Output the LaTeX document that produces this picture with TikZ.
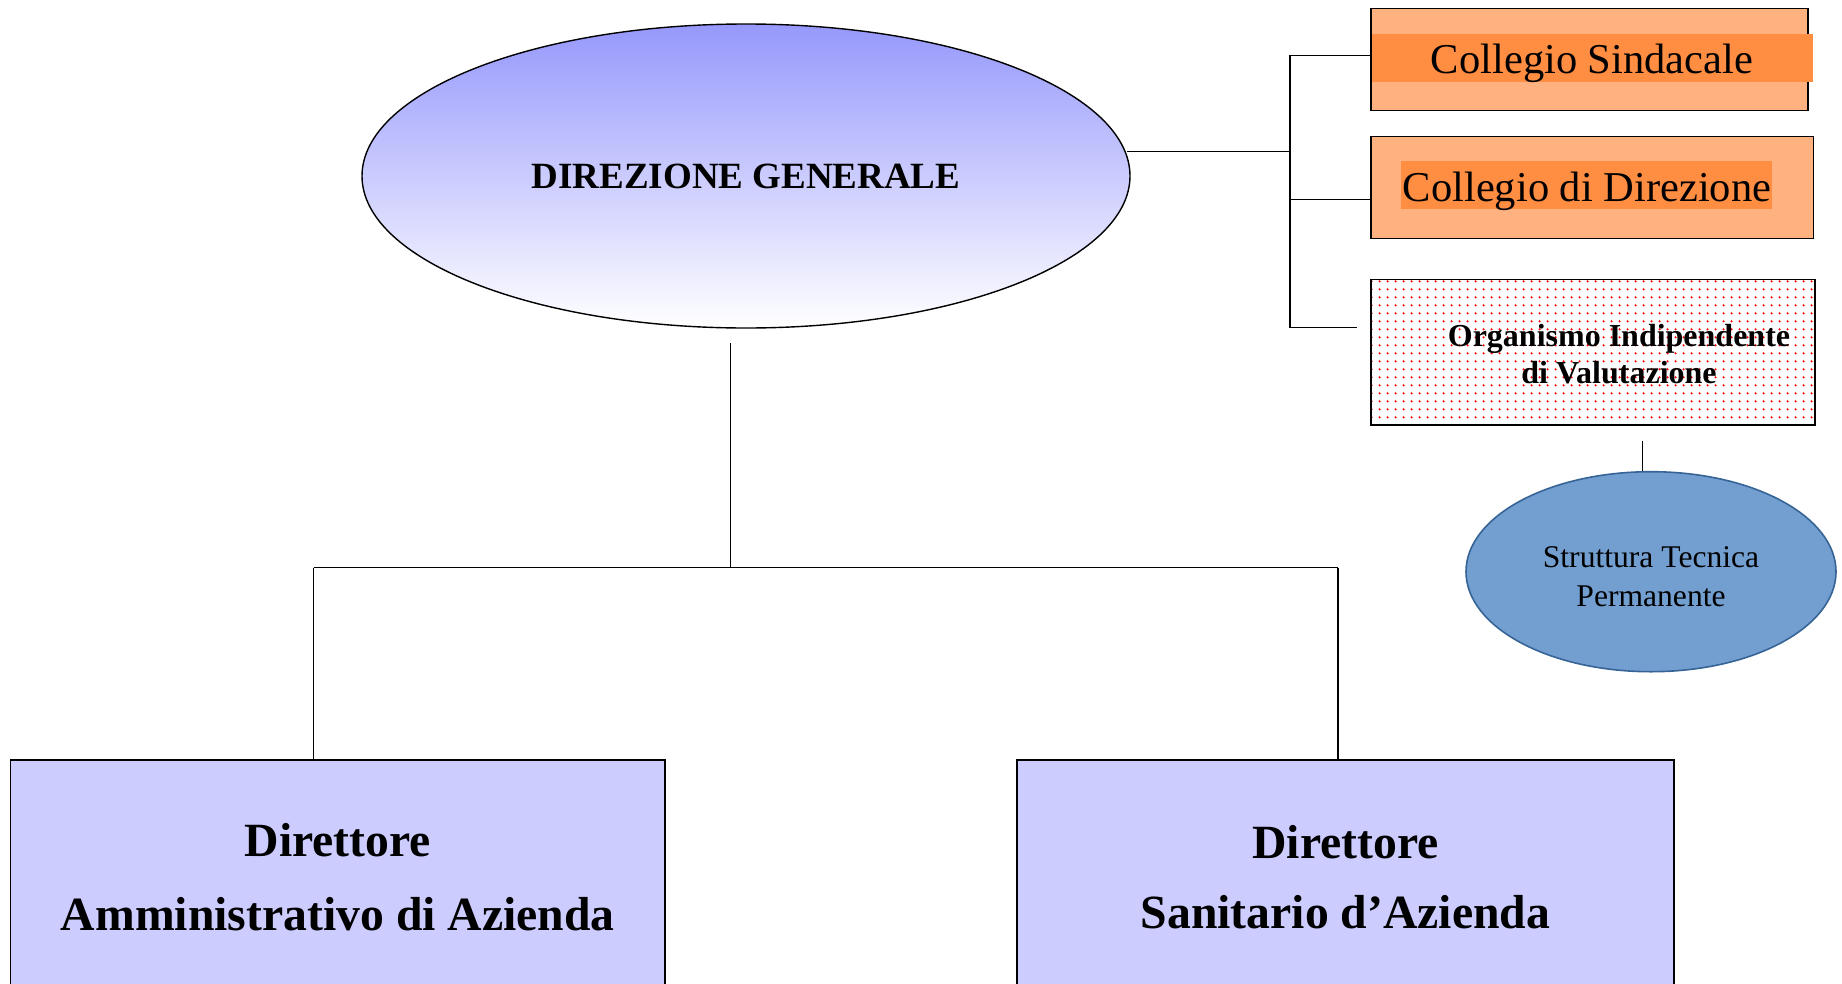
\documentclass[tikz,border=0pt]{standalone}
\usepackage{fontspec}
\setmainfont{Liberation Serif}
\newfontfamily\tnr{Liberation Serif}
\usetikzlibrary{shapes.geometric,patterns.meta}
\definecolor{dgtop}{RGB}{150,152,252}
\definecolor{orlight}{RGB}{255,177,128}
\definecolor{ordark}{RGB}{255,141,66}
\definecolor{stpfill}{RGB}{114,159,207}
\definecolor{stpline}{RGB}{55,100,150}
\definecolor{dirfill}{RGB}{204,204,255}
\tikzdeclarepattern{
  name=reddots,
  type=colored,
  bottom left={(0pt,0pt)}, top right={(7.6pt,7.6pt)},
  tile size={(7.6pt,7.6pt)},
  code={\fill[red] (3.8pt,3.8pt) circle[radius=1.3pt];}
}
\begin{document}
\begin{tikzpicture}[x=1pt,y=-1pt,
  conn/.style={draw=black,line width=1.4pt},
  orbox/.style={draw=black,line width=1.6pt,fill=orlight,minimum width=437pt,minimum height=102pt,inner sep=0pt},
  ortext/.style={inner sep=0pt,font=\tnr\fontsize{42.5}{48}\selectfont},
  dirbox/.style={draw=black,line width=1.6pt,fill=dirfill,align=center,inner sep=0pt,font=\tnr\fontsize{47.7}{74}\selectfont\bfseries},
]
\useasboundingbox (0,0) rectangle (1842,983);
\fill[white] (0,0) rectangle (1842,983);

% Direzione generale
\node[ellipse,draw=black,line width=1.4pt,inner sep=0pt,minimum width=768pt,minimum height=304pt,
      top color=dgtop,bottom color=white,font=\tnr\fontsize{37}{40}\selectfont\bfseries]
      (DG) at (746,176) {\raisebox{-6pt}{DIREZIONE GENERALE}};

% Collegio Sindacale
\node[orbox] (CS) at (1589.5,59.3) {};
\fill[ordark] (1372,34) rectangle (1812.6,82.2);
\node[ortext] (CSt) at (1592,63) {Collegio Sindacale};

% Collegio di Direzione
\node[orbox,minimum width=442.7pt] (CD) at (1592.3,187.4) {};
\fill[ordark] (1401.4,161) rectangle (1771.5,209);
\node[ortext] (CDt) at (1587,191.5) {Collegio di Direzione};

% OIV
\node[draw=black,line width=1.6pt,pattern=reddots,minimum width=444pt,minimum height=145.6pt,inner sep=0pt] (OIV) at (1593,352.4) {};
\node[align=center,font=\tnr\fontsize{32}{37.6}\selectfont\bfseries,inner sep=0pt] (OIVt) at (1619,354) {Organismo Indipendente\\di Valutazione};

% Struttura Tecnica Permanente
\node[ellipse,draw=stpline,line width=1.6pt,fill=stpfill,inner sep=0pt,minimum width=370pt,minimum height=200pt,
      align=center,font=\tnr\fontsize{31.6}{39}\selectfont] (STP) at (1651,571.7) {\rule{0pt}{31pt}Struttura Tecnica\\Permanente};

% Direttori
\node[dirbox,minimum width=654.4pt,minimum height=234pt] (DA) at (337.8,877) {Direttore\\Amministrativo di Azienda};
\node[dirbox,minimum width=657pt,minimum height=234pt,font=\tnr\fontsize{47.7}{70}\selectfont\bfseries] (DS) at (1345.5,877) {Direttore\\Sanitario d’Azienda};

% connectors, right side
\coordinate (dgr) at (1127,151.5);
\coordinate (bt) at (1290,55.2);
\coordinate (bm) at (1290,199.7);
\coordinate (bb) at (1290,327.7);
\coordinate (be) at (1356.8,327.7);
\draw[conn] (dgr) -- (dgr -| bt);
\draw[conn] (bt) -- (bb);
\draw[conn] (bt) -- (bt -| CS.west);
\draw[conn] (bm) -- (bm -| CD.west);
\draw[conn] (bb) -- (be);
\coordinate (ob) at (1642.2,440.5);
\draw[conn] (ob) -- (ob |- STP.north);

% connectors, lower side
\coordinate (dgb) at (730.7,343);
\coordinate (jm) at (730.7,567.5);
\coordinate (jl) at (313.6,567.5);
\coordinate (jr) at (1338,567.5);
\draw[conn] (dgb) -- (jm);
\draw[conn] (jl) -- (jr);
\draw[conn] (jl) -- (jl |- DA.north);
\draw[conn] (jr) -- (jr |- DS.north);
\end{tikzpicture}
\end{document}
